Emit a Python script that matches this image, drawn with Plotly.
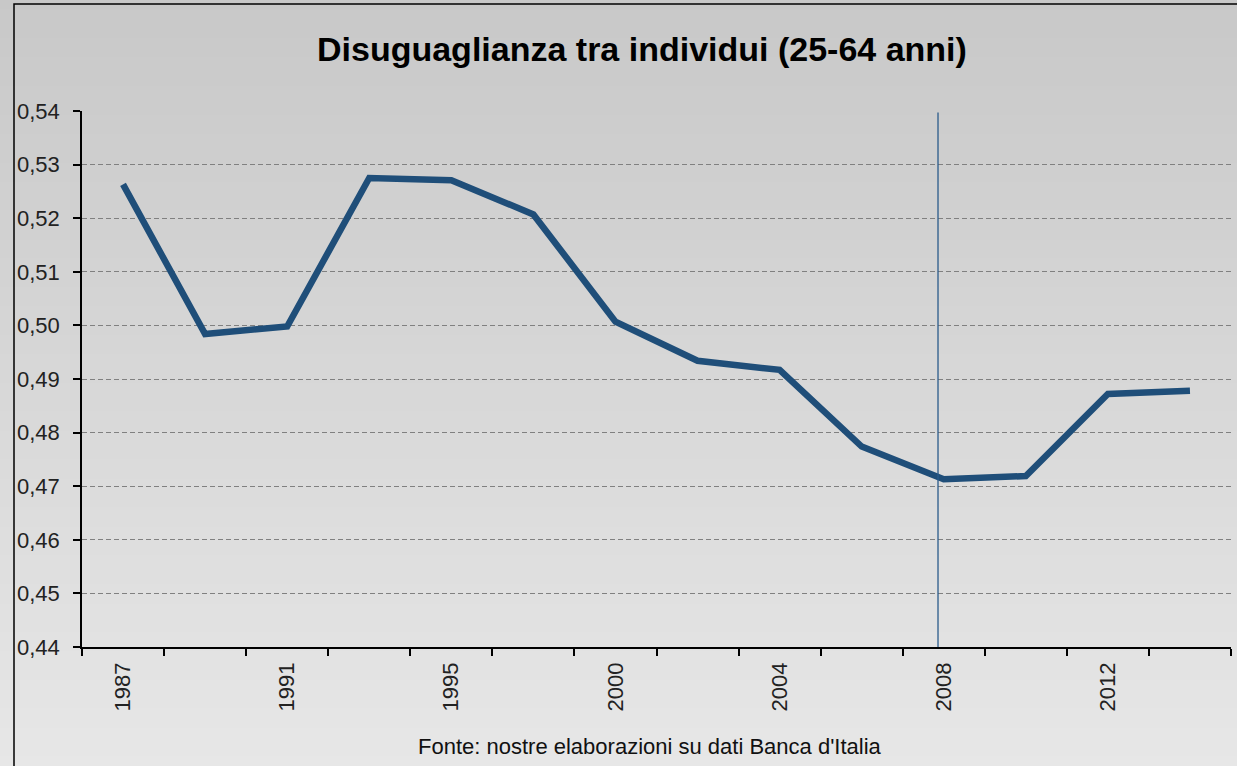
import plotly.graph_objects as go

# ---- data ----
years = ["1987", "1989", "1991", "1993", "1995", "1998", "2000",
         "2002", "2004", "2006", "2008", "2010", "2012", "2014"]
gini = [0.5263, 0.4984, 0.4998, 0.5275, 0.5271, 0.5207, 0.5007,
        0.4934, 0.4917, 0.4774, 0.4713, 0.4719, 0.4872, 0.4878]
tick_labels = ["1987", "", "1991", "", "1995", "", "2000",
               "", "2004", "", "2008", "", "2012", ""]
y_ticks = [0.44, 0.45, 0.46, 0.47, 0.48, 0.49, 0.50, 0.51, 0.52, 0.53, 0.54]
marker_year = "2008"

title = "Disuguaglianza tra individui (25-64 anni)"
source = "Fonte: nostre elaborazioni su dati Banca d'Italia"

# ---- layout geometry ----
IMG_W, IMG_H = 1237, 766
ML, MR, MT, MB = 82, 6, 111, 119
PW = IMG_W - ML - MR
PH = IMG_H - MT - MB


def px_to_paper_x(px):
    return (px - ML) / PW


def px_to_paper_y(py):
    return (IMG_H - MB - py) / PH


FONT = "Liberation Sans, Arial, sans-serif"
LINE_COLOR = "#1f4e79"

fig = go.Figure()
fig.add_trace(go.Scatter(
    x=years, y=gini, mode="lines",
    line=dict(color=LINE_COLOR, width=6.5),
    hoverinfo="x+y", showlegend=False,
))

shapes = []
# background gradient (top darker, bottom lighter)
N = 80
top_c, bot_c = 200, 231
for i in range(N):
    y0 = IMG_H * i / N
    y1 = IMG_H * (i + 1) / N + 1
    c = round(top_c + (bot_c - top_c) * (i + 0.5) / N)
    shapes.append(dict(
        type="rect", xref="paper", yref="paper", layer="below",
        x0=px_to_paper_x(-2), x1=px_to_paper_x(IMG_W + 2),
        y0=px_to_paper_y(y1), y1=px_to_paper_y(y0),
        line=dict(width=0), fillcolor=f"rgb({c},{c},{c})",
    ))
# outer frame
shapes.append(dict(
    type="rect", xref="paper", yref="paper", layer="above",
    x0=px_to_paper_x(14), x1=px_to_paper_x(IMG_W + 20),
    y0=px_to_paper_y(IMG_H + 20), y1=px_to_paper_y(4),
    line=dict(color="#000000", width=1.5), fillcolor="rgba(0,0,0,0)",
))
# vertical marker at 2008
mx = years.index(marker_year) - 0.07
shapes.append(dict(
    type="line", xref="x", yref="y", layer="above",
    x0=mx, x1=mx, y0=y_ticks[0], y1=y_ticks[-1] - 0.0003,
    line=dict(color="#2a5a8a", width=1.3),
))

fig.update_layout(
    width=IMG_W, height=IMG_H,
    margin=dict(l=ML, r=MR, t=MT, b=MB, autoexpand=False),
    paper_bgcolor="#d8d8d8",
    plot_bgcolor="rgba(0,0,0,0)",
    separators=", ",
    font=dict(family=FONT, color="#222222"),
    shapes=shapes,
    annotations=[
        dict(text=f"<b>{title}</b>", xref="paper", yref="paper",
             x=px_to_paper_x(642), y=px_to_paper_y(49),
             xanchor="center", yanchor="middle", showarrow=False,
             font=dict(size=34, color="#000000", family=FONT)),
        dict(text=source, xref="paper", yref="paper",
             x=px_to_paper_x(650), y=px_to_paper_y(746),
             xanchor="center", yanchor="middle", showarrow=False,
             font=dict(size=22, color="#111111", family=FONT)),
    ],
)

fig.update_xaxes(
    type="category",
    categoryorder="array", categoryarray=years,
    range=[-0.5, len(years) - 0.5],
    tickmode="array", tickvals=years, ticktext=tick_labels,
    tickson="boundaries",
    ticks="outside", ticklen=7, tickwidth=1.5, tickcolor="#000000",
    tickangle=-90,
    tickfont=dict(size=22, color="#222222", family=FONT),
    showline=True, linecolor="#000000", linewidth=1.5,
    showgrid=False, zeroline=False, automargin=False,
    ticklabelstandoff=5,
)
fig.update_yaxes(
    range=[y_ticks[0], y_ticks[-1]],
    tickmode="array", tickvals=y_ticks,
    tickformat=".2f",
    ticks="outside", ticklen=7, tickwidth=1.5, tickcolor="#000000",
    tickfont=dict(size=22, color="#222222", family=FONT),
    showline=True, linecolor="#000000", linewidth=1.5,
    showgrid=True, gridcolor="#808080", gridwidth=1, griddash="5px,3px",
    zeroline=False, automargin=False,
    ticklabelstandoff=9,
)

fig.write_html("out.html", config={"displayModeBar": False},
               post_script="document.body.style.margin='0';")
